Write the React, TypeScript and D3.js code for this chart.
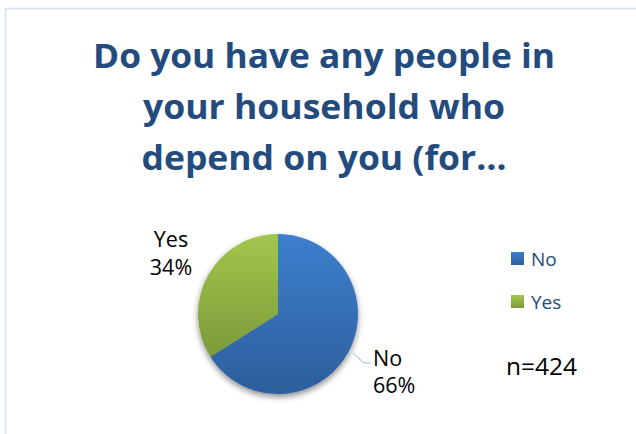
import React from "react";
import * as d3 from "d3";

const categories = ["No", "Yes"];
const values = [66, 34];
const sampleLabel = "n=424";
const titleLines = ["Do you have any people in", "your household who", "depend on you (for…"];

const W = 636, H = 434;
const cx = 278, cy = 314, R = 80;

export default function App() {
  const pie = d3.pie<number>().sort(null).value((d) => d)(values);
  const arc = d3.arc<d3.PieArcDatum<number>>().innerRadius(0).outerRadius(R);
  const grads = ["gBlue", "gGreen"];
  const labelPos = [
    { x: 373, y1: 366, y2: 393, anchor: "start" },
    { x: 171, y1: 247, y2: 275, anchor: "middle" },
  ];
  const titleWidths = [462, 362, 365];
  const font = "'Open Sans', sans-serif";
  return (
    <div style={{ position: "absolute", left: 0, top: 0, margin: 0 }}>
      <svg width={W} height={H} style={{ display: "block" }}>
        <defs>
          <linearGradient id="gBlue" x1="0" y1="0" x2="0" y2="1">
            <stop offset="0" stopColor="#3C7FCE" />
            <stop offset="1" stopColor="#2D5E9C" />
          </linearGradient>
          <linearGradient id="gGreen" x1="0" y1="0" x2="0" y2="1">
            <stop offset="0" stopColor="#A2C64D" />
            <stop offset="1" stopColor="#7B9B3A" />
          </linearGradient>
          <filter id="shadow" x="-30%" y="-30%" width="160%" height="160%">
            <feGaussianBlur in="SourceAlpha" stdDeviation="3" />
            <feOffset dx="0" dy="3" result="b" />
            <feComponentTransfer><feFuncA type="linear" slope="0.45" /></feComponentTransfer>
            <feMerge><feMergeNode /><feMergeNode in="SourceGraphic" /></feMerge>
          </filter>
        </defs>
        <rect x={0} y={0} width={W} height={H} fill="#fff" />
        <rect x={5.5} y={8.5} width={W + 20} height={H + 20} fill="#fff" stroke="#D5E2F1" strokeWidth={1.5} />
        <g fontFamily={font} fontWeight="bold" fontSize={34} fill="#234B7D" textAnchor="middle">
          {titleLines.map((t, i) => (
            <text key={i} x={324} y={67.5 + i * 51.3} textLength={titleWidths[i]} lengthAdjust="spacingAndGlyphs">{t}</text>
          ))}
        </g>
        <g transform={`translate(${cx},${cy})`} filter="url(#shadow)">
          {pie.map((p, i) => (
            <path key={i} d={arc(p) as string} fill={`url(#${grads[i]})`} />
          ))}
        </g>
        <polyline points="353,353 364,363 371,363" fill="none" stroke="#8FB4E0" strokeWidth={1} />
        <g fontFamily={font} fontSize={21.5} fill="#000">
          {categories.map((c, i) => (
            <g key={c} textAnchor={labelPos[i].anchor as any}>
              <text x={labelPos[i].x} y={labelPos[i].y1}>{c}</text>
              <text x={labelPos[i].x} y={labelPos[i].y2}>{values[i]}%</text>
            </g>
          ))}
        </g>
        <g fontFamily={font} fontSize={19} fill="#234B7D">
          {categories.map((c, i) => (
            <g key={c} transform={`translate(511,${252 + i * 43})`}>
              <rect width={13} height={13} fill={`url(#${grads[i]})`} />
              <text x={20} y={13.5}>{c}</text>
            </g>
          ))}
        </g>
        <text x={506} y={375} fontFamily={font} fontSize={24.5} fill="#000">{sampleLabel}</text>
      </svg>
    </div>
  );
}
